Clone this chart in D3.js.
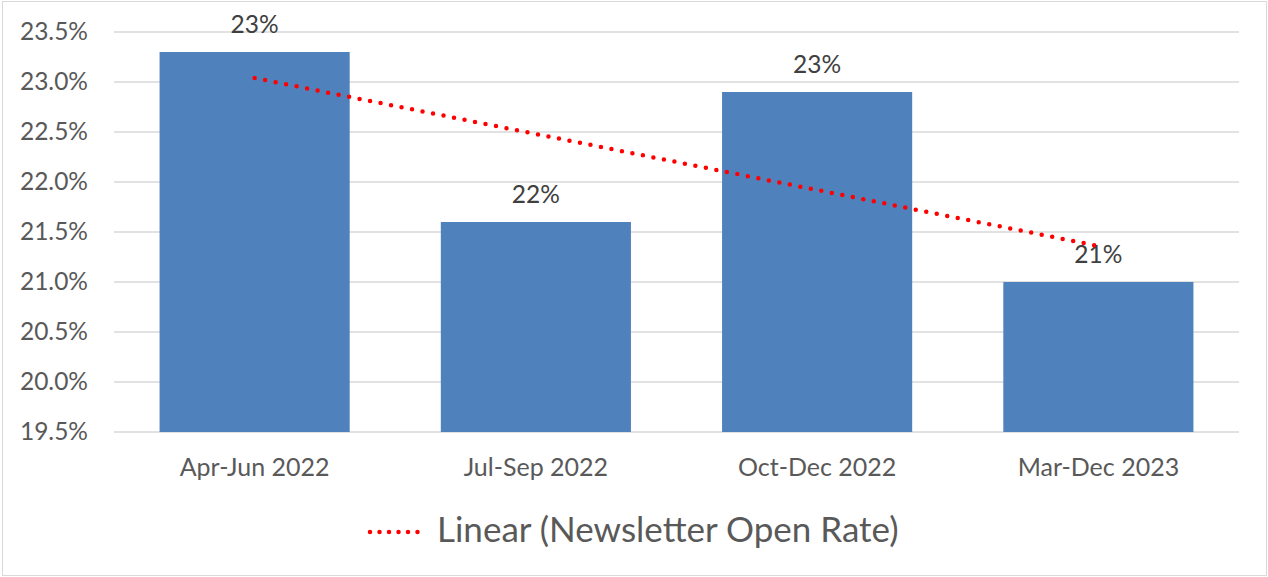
<!DOCTYPE html>
<html>
<head>
<meta charset="utf-8">
<script src="https://cdn.jsdelivr.net/npm/d3@7"></script>
<style>
  body { margin: 0; background: #fff; }
  text { font-family: Lato, "Open Sans", sans-serif; }
</style>
</head>
<body>
<div id="chart"></div>
<script>
var categories = ["Apr-Jun 2022", "Jul-Sep 2022", "Oct-Dec 2022", "Mar-Dec 2023"];
var openRate = [23.3, 21.6, 22.9, 21.0];
var yTicks = [19.5, 20.0, 20.5, 21.0, 21.5, 22.0, 22.5, 23.0, 23.5];
var legendLabel = "Linear (Newsletter Open Rate)";

var width = 1268;
var height = 577;
var margin = {top: 32, right: 29, bottom: 145, left: 114};

var svg = d3.select("#chart").append("svg")
  .attr("width", width)
  .attr("height", height);

// outer chart border
svg.append("rect")
  .attr("x", 2.5).attr("y", 1.5)
  .attr("width", width - 4).attr("height", height - 3)
  .attr("fill", "none")
  .attr("stroke", "#d9d9d9");

var x = d3.scaleBand()
  .domain(categories)
  .range([margin.left, width - margin.right])
  .paddingInner(0.324)
  .paddingOuter(0.162);

var y = d3.scaleLinear()
  .domain([19.5, 23.5])
  .range([height - margin.bottom, margin.top]);

// gridlines
svg.append("g")
  .selectAll("line")
  .data(yTicks)
  .enter().append("line")
  .attr("x1", margin.left)
  .attr("x2", width - margin.right)
  .attr("y1", function (d) { return y(d); })
  .attr("y2", function (d) { return y(d); })
  .attr("stroke", "#d9d9d9")
  .attr("stroke-width", 1.3);

// y axis labels
var yAxis = d3.axisLeft(y)
  .tickValues(yTicks)
  .tickSize(0)
  .tickPadding(26)
  .tickFormat(function (d) { return d3.format(".1f")(d) + "%"; });

var gy = svg.append("g")
  .attr("transform", "translate(" + margin.left + ",0)")
  .call(yAxis);
gy.select(".domain").remove();
gy.selectAll("text")
  .attr("fill", "#595959")
  .style("font-size", "24.5px");

// bars
svg.append("g")
  .selectAll("rect")
  .data(openRate)
  .enter().append("rect")
  .attr("x", function (d, i) { return x(categories[i]); })
  .attr("y", function (d) { return y(d); })
  .attr("width", x.bandwidth())
  .attr("height", function (d) { return y(19.5) - y(d); })
  .attr("fill", "#4f81bd");

// data labels
svg.append("g")
  .selectAll("text")
  .data(openRate)
  .enter().append("text")
  .attr("x", function (d, i) { return x(categories[i]) + x.bandwidth() / 2; })
  .attr("y", function (d) { return y(d) - 19; })
  .attr("text-anchor", "middle")
  .attr("fill", "#404040")
  .style("font-size", "24.5px")
  .text(function (d) { return d3.format(".0f")(d) + "%"; });

// x axis labels
var xAxis = d3.axisBottom(x).tickSize(0).tickPadding(26);
var gx = svg.append("g")
  .attr("transform", "translate(0," + y(19.5) + ")")
  .call(xAxis);
gx.select(".domain").remove();
gx.selectAll("text")
  .attr("fill", "#595959")
  .style("font-size", "25px");

// linear trendline (least squares over category index)
var xs = openRate.map(function (d, i) { return i + 1; });
var mx = d3.mean(xs), my = d3.mean(openRate);
var slope = d3.sum(xs, function (v, i) { return (v - mx) * (openRate[i] - my); }) /
  d3.sum(xs, function (v) { return (v - mx) * (v - mx); });
var intercept = my - slope * mx;

var trend = [1, categories.length].map(function (k) {
  return [x(categories[k - 1]) + x.bandwidth() / 2, y(intercept + slope * k)];
});

svg.append("path")
  .attr("d", d3.line()(trend))
  .attr("fill", "none")
  .attr("stroke", "#ff0000")
  .attr("stroke-width", 4.5)
  .attr("stroke-linecap", "round")
  .attr("stroke-dasharray", "0 10.7");

// legend
var legend = svg.append("g").attr("transform", "translate(370,532)");
legend.append("line")
  .attr("x1", 0).attr("x2", 57)
  .attr("y1", 0).attr("y2", 0)
  .attr("stroke", "#ff0000")
  .attr("stroke-width", 4.5)
  .attr("stroke-linecap", "round")
  .attr("stroke-dasharray", "0 9.5");
legend.append("text")
  .attr("x", 67)
  .attr("y", 10)
  .attr("fill", "#595959")
  .style("font-size", "35px")
  .text(legendLabel);
</script>
</body>
</html>
